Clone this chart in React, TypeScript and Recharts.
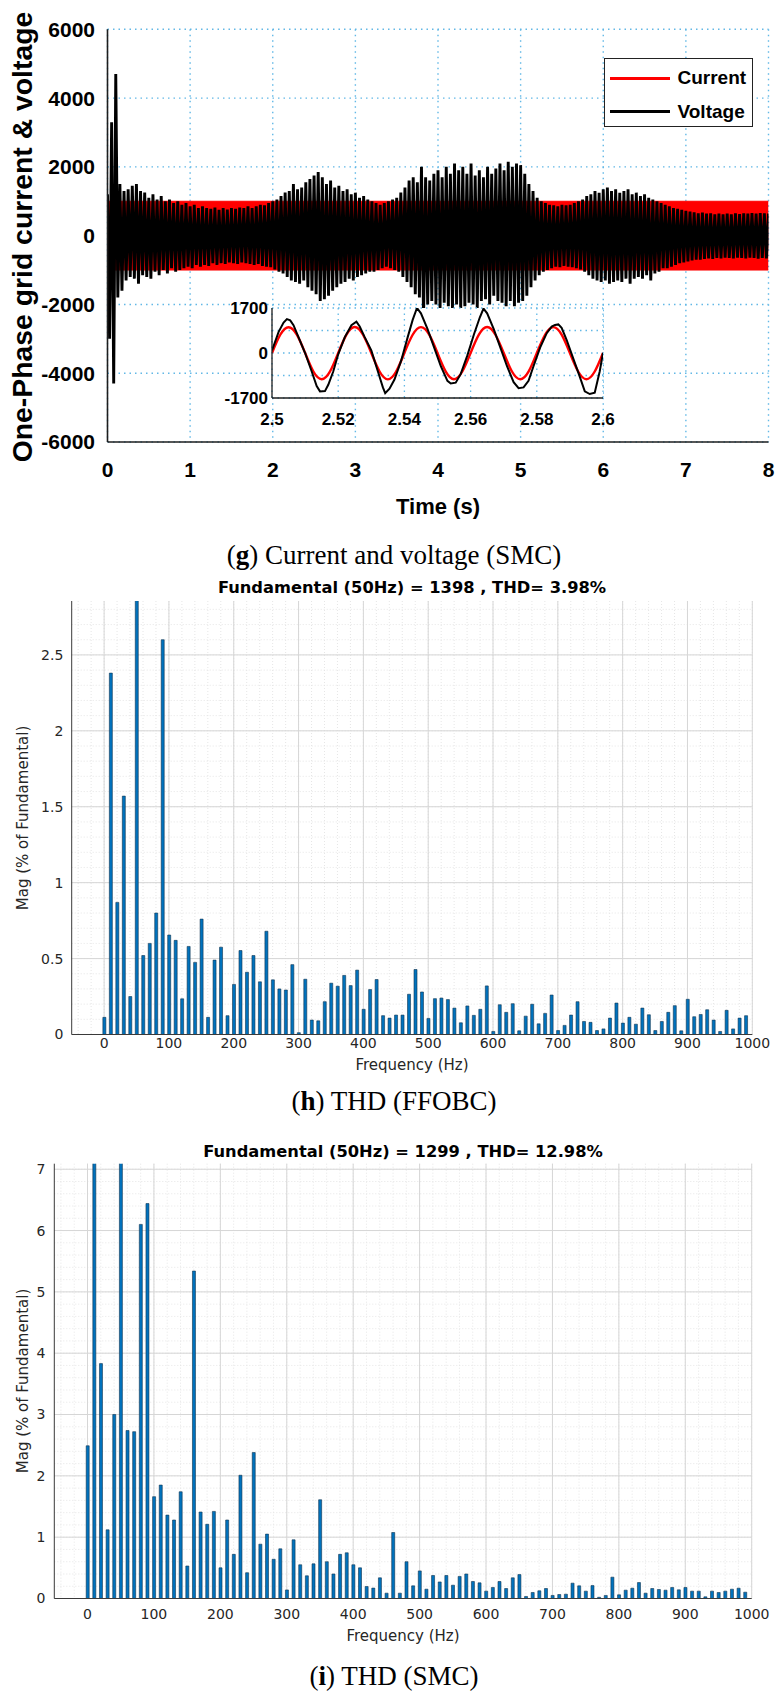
import React from 'react';
import {
  ComposedChart,
  LineChart,
  BarChart,
  Line,
  Area,
  Bar,
  XAxis,
  YAxis,
  CartesianGrid,
  Legend,
} from 'recharts';

// ---------------- (g) time-domain panel data ----------------
const timeTicks = [0, 1, 2, 3, 4, 5, 6, 7, 8];
const ampTicks = [-6000, -4000, -2000, 0, 2000, 4000, 6000];

// grid current: dense 50 Hz oscillation, read as its envelope
const currentTime = [0, 0.005, 0.01, 8];
const currentHigh = [0, 700, 1000, 1000];
const currentLow = [0, -700, -1000, -1000];

// grid voltage: successive positive / negative peaks
const voltageTime = [
  0, 0.05, 0.1, 0.15, 0.2, 0.25, 0.3, 0.35, 0.4, 0.45, 0.5, 0.55, 0.6, 0.65, 0.7, 0.75, 0.8, 0.85, 0.9, 0.95,
  1, 1.05, 1.1, 1.15, 1.2, 1.25, 1.3, 1.35, 1.4, 1.45, 1.5, 1.55, 1.6, 1.65, 1.7, 1.75, 1.8, 1.85, 1.9, 1.95,
  2, 2.05, 2.1, 2.15, 2.2, 2.25, 2.3, 2.35, 2.4, 2.45, 2.5, 2.55, 2.6, 2.65, 2.7, 2.75, 2.8, 2.85, 2.9, 2.95,
  3, 3.05, 3.1, 3.15, 3.2, 3.25, 3.3, 3.35, 3.4, 3.45, 3.5, 3.55, 3.6, 3.65, 3.7, 3.75, 3.8, 3.85, 3.9, 3.95,
  4, 4.05, 4.1, 4.15, 4.2, 4.25, 4.3, 4.35, 4.4, 4.45, 4.5, 4.55, 4.6, 4.65, 4.7, 4.75, 4.8, 4.85, 4.9, 4.95,
  5, 5.05, 5.1, 5.15, 5.2, 5.25, 5.3, 5.35, 5.4, 5.45, 5.5, 5.55, 5.6, 5.65, 5.7, 5.75, 5.8, 5.85, 5.9, 5.95,
  6, 6.05, 6.1, 6.15, 6.2, 6.25, 6.3, 6.35, 6.4, 6.45, 6.5, 6.55, 6.6, 6.65, 6.7, 6.75, 6.8, 6.85, 6.9, 6.95,
  7, 7.05, 7.1, 7.15, 7.2, 7.25, 7.3, 7.35, 7.4, 7.45, 7.5, 7.55, 7.6, 7.65, 7.7, 7.75, 7.8, 7.85, 7.9, 7.95,
  8,
];
const voltageHigh = [
  1200, 3300, 4700, 1500, 1300, 1350, 1450, 1500, 1300, 1250, 1100, 1200, 1050, 1150, 1000, 1050, 950, 1000, 900, 950,
  850, 900, 800, 850, 800, 780, 820, 750, 800, 760, 800, 780, 820, 800, 850, 800, 850, 900, 880, 950,
  1000, 1050, 1150, 1250, 1300, 1500, 1350, 1400, 1550, 1650, 1750, 1850, 1700, 1500, 1600, 1400, 1450, 1300, 1350, 1200,
  1250, 1100, 1150, 1050, 1000, 950, 900, 950, 1000, 1050, 1100, 1250, 1400, 1600, 1700, 1550, 2000, 1700, 1600, 1800,
  1900, 1700, 2000, 1800, 2100, 1900, 2000, 1800, 2100, 1750, 1900, 1700, 2000, 1800, 1950, 2100, 1900, 2150, 2000, 2100,
  2050, 1800, 1500, 1300, 1100, 1000, 950, 900, 880, 850, 900, 880, 900, 950, 1000, 1050, 1150, 1200, 1300, 1250,
  1350, 1400, 1300, 1350, 1250, 1300, 1350, 1200, 1250, 1150, 1200, 1100, 1050, 1000, 950, 900, 850, 800, 780, 750,
  720, 700, 680, 650, 670, 640, 650, 620, 640, 620, 640, 620, 650, 630, 650, 640, 660, 640, 660, 650,
  640,
];
const voltageLow = [
  -3000, -4300, -1800, -1600, -1300, -1200, -1250, -1400, -1150, -1200, -1250, -1050, -1150, -1000, -1100, -950, -1050, -1000, -950, -900,
  -950, -850, -900, -850, -880, -800, -850, -800, -820, -780, -800, -820, -780, -800, -820, -850, -820, -880, -900, -920,
  -980, -1050, -1100, -1200, -1300, -1350, -1400, -1300, -1500, -1600, -1700, -1900, -1850, -1750, -1600, -1500, -1400, -1350, -1250, -1300,
  -1200, -1150, -1100, -1050, -1050, -1000, -950, -900, -950, -1000, -1050, -1200, -1350, -1500, -1700, -1800, -2400, -2000, -1900, -2000,
  -2100, -1950, -2050, -2100, -2000, -2100, -2050, -1950, -2000, -2100, -1900, -1850, -2000, -1750, -1900, -1950, -2050, -1900, -2050, -1950,
  -1900, -1750, -1500, -1300, -1150, -1050, -1000, -950, -900, -920, -880, -900, -920, -950, -980, -1050, -1150, -1250, -1300, -1350,
  -1300, -1400, -1350, -1300, -1350, -1250, -1400, -1250, -1200, -1250, -1150, -1300, -1100, -1050, -950, -950, -900, -850, -800, -780,
  -750, -720, -700, -700, -680, -660, -680, -650, -660, -640, -650, -660, -640, -650, -660, -640, -650, -670, -650, -660,
  -650,
];
const HALF_PERIOD_STEP = 0.025;

// zoomed inset (2.5 s – 2.6 s)
const insetTicks = [2.5, 2.52, 2.54, 2.56, 2.58, 2.6];
const insetAmpTicks = [-1700, -850, 0, 850, 1700];
const insetAmpLabels: Record<number, string> = { [-1700]: '-1700', [-850]: '', 0: '0', 850: '', 1700: '1700' };

const insetCurrentTime = [
  2.5, 2.5025, 2.505, 2.5075, 2.51, 2.5125, 2.515, 2.5175,
  2.52, 2.5225, 2.525, 2.5275, 2.53, 2.5325, 2.535, 2.5375,
  2.54, 2.5425, 2.545, 2.5475, 2.55, 2.5525, 2.555, 2.5575,
  2.56, 2.5625, 2.565, 2.5675, 2.57, 2.5725, 2.575, 2.5775,
  2.58, 2.5825, 2.585, 2.5875, 2.59, 2.5925, 2.595, 2.5975,
  2.6,
];
const insetCurrent = [
  0, 690, 975, 695, 5, -700, -990, -705,
  0, 695, 980, 690, 0, -700, -995, -700,
  5, 690, 978, 692, 0, -702, -990, -700,
  0, 693, 980, 690, 3, -700, -992, -703,
  0, 690, 977, 693, 0, -700, -990, -700,
  0,
];
const insetVoltageTime = [
  2.5, 2.502, 2.5035, 2.5045, 2.5055, 2.5065, 2.508, 2.51, 2.512, 2.5135, 2.5145, 2.516, 2.517, 2.5185,
  2.52, 2.522, 2.524, 2.5255, 2.5265, 2.528, 2.53, 2.532, 2.5335, 2.5342, 2.5355, 2.537, 2.539,
  2.541, 2.5425, 2.5438, 2.545, 2.547, 2.549, 2.551, 2.553, 2.554, 2.5555, 2.557, 2.559,
  2.561, 2.5628, 2.5639, 2.565, 2.567, 2.569, 2.571, 2.573, 2.5745, 2.576, 2.5775, 2.579,
  2.581, 2.583, 2.5845, 2.5855, 2.5865, 2.5875, 2.589, 2.591, 2.593, 2.5945, 2.596, 2.5975, 2.599, 2.6,
];
const insetVoltage = [
  100, 800, 1150, 1280, 1230, 1050, 600, 0, -700, -1250, -1450, -1440, -1200, -700,
  -50, 600, 1050, 1180, 1000, 600, 100, -700, -1300, -1520, -1350, -1000, -300,
  600, 1250, 1700, 1500, 900, 200, -500, -1050, -1150, -1120, -800, -100,
  700, 1350, 1680, 1500, 900, 200, -500, -1100, -1330, -1300, -1050, -500,
  200, 750, 1000, 1060, 1080, 950, 500, -200, -900, -1450, -1550, -1500, -700, 0,
];

// ---------------- (h) / (i) harmonic spectra data ----------------
const freqHz = [
  0, 10, 20, 30, 40, 50, 60, 70, 80, 90, 100, 110, 120, 130, 140, 150, 160, 170, 180, 190,
  200, 210, 220, 230, 240, 250, 260, 270, 280, 290, 300, 310, 320, 330, 340, 350, 360, 370, 380, 390,
  400, 410, 420, 430, 440, 450, 460, 470, 480, 490, 500, 510, 520, 530, 540, 550, 560, 570, 580, 590,
  600, 610, 620, 630, 640, 650, 660, 670, 680, 690, 700, 710, 720, 730, 740, 750, 760, 770, 780, 790,
  800, 810, 820, 830, 840, 850, 860, 870, 880, 890, 900, 910, 920, 930, 940, 950, 960, 970, 980, 990,
];
const freqTicks = [0, 100, 200, 300, 400, 500, 600, 700, 800, 900, 1000];

// FFOBC: % of fundamental (50 Hz bar = 100 %, clipped by the axis)
const magFFOBC = [
  0.113, 2.38, 0.87, 1.57, 0.25, 100, 0.52, 0.6, 0.8, 2.6, 0.655, 0.62, 0.235, 0.58, 0.475, 0.76, 0.113, 0.49, 0.575, 0.124,
  0.33, 0.553, 0.41, 0.52, 0.347, 0.68, 0.36, 0.3, 0.293, 0.46, 0.012, 0.364, 0.095, 0.09, 0.216, 0.338, 0.318, 0.389, 0.322, 0.424,
  0.166, 0.296, 0.362, 0.124, 0.108, 0.128, 0.128, 0.265, 0.428, 0.28, 0.106, 0.236, 0.24, 0.23, 0.174, 0.077, 0.188, 0.126, 0.166, 0.32,
  0.02, 0.196, 0.146, 0.203, 0.024, 0.121, 0.199, 0.07, 0.139, 0.26, 0.026, 0.06, 0.128, 0.216, 0.086, 0.08, 0.026, 0.037, 0.108, 0.207,
  0.075, 0.113, 0.068, 0.174, 0.13, 0.026, 0.086, 0.146, 0.19, 0.024, 0.232, 0.117, 0.132, 0.163, 0.095, 0.02, 0.159, 0.037, 0.108, 0.124,
];
const ffobcTicks = [0, 0.5, 1, 1.5, 2, 2.5];

// SMC: % of fundamental (10 Hz and 50 Hz bars run past the top of the axis)
const magSMC = [
  2.49, 7.5, 3.83, 1.12, 3.0, 100, 2.74, 2.72, 6.1, 6.44, 1.66, 1.85, 1.36, 1.28, 1.74, 0.53, 5.34, 1.41, 1.21, 1.42,
  0.5, 1.28, 0.72, 2.01, 0.42, 2.38, 0.886, 1.05, 0.64, 0.81, 0.14, 0.957, 0.55, 0.37, 0.565, 1.61, 0.6, 0.4, 0.72, 0.745,
  0.55, 0.5, 0.196, 0.17, 0.337, 0.087, 1.076, 0.087, 0.6, 0.206, 0.45, 0.152, 0.375, 0.27, 0.375, 0.217, 0.36, 0.4, 0.277, 0.255,
  0.12, 0.18, 0.277, 0.163, 0.337, 0.39, 0.033, 0.098, 0.125, 0.163, 0.05, 0.065, 0.07, 0.25, 0.206, 0.12, 0.21, 0.02, 0.05, 0.348,
  0.06, 0.136, 0.168, 0.26, 0.087, 0.163, 0.147, 0.136, 0.18, 0.141, 0.18, 0.12, 0.12, 0.027, 0.12, 0.098, 0.12, 0.152, 0.168, 0.103,
];
const smcTicks = [0, 1, 2, 3, 4, 5, 6, 7];

const legendOrder = ['Current', 'Voltage'];

// ---------------- styling ----------------
const SANS = "'Liberation Sans', Arial, Helvetica, sans-serif";
const DV = "'DejaVu Sans', Verdana, sans-serif";
const SERIF = "'Liberation Serif', 'Times New Roman', serif";
const GRID_BLUE = '#62b8e6';
const FRAME = '#1e1e1e';

function gridSteps(start: number, stop: number, step: number): number[] {
  const out: number[] = [];
  for (let v = start; v <= stop + 1e-9; v += step) out.push(Math.round(v * 1000) / 1000);
  return out;
}

function CenterText(props: {
  x: number;
  y: number;
  children: React.ReactNode;
  style?: React.CSSProperties;
  rotate?: boolean;
  stretch?: number;
}) {
  const stretch = props.stretch ? ` scaleX(${props.stretch})` : '';
  return (
    <div
      style={{
        position: 'absolute',
        left: props.x,
        top: props.y,
        transform: `translate(-50%, -50%)${props.rotate ? ' rotate(-90deg)' : ''}${stretch}`,
        whiteSpace: 'nowrap',
        lineHeight: 1,
        ...props.style,
      }}
    >
      {props.children}
    </div>
  );
}

function LegendBox(props: any) {
  const payload: any[] = (props && props.payload) || [];
  const items = [...payload].sort(
    (a, b) => legendOrder.indexOf(String(a.value)) - legendOrder.indexOf(String(b.value))
  );
  const rowCenters = [19, 52.4];
  return (
    <div
      style={{
        position: 'relative',
        boxSizing: 'border-box',
        width: 149,
        height: 68.4,
        border: '1.5px solid #222',
        background: '#fff',
        fontFamily: SANS,
        fontWeight: 700,
        fontSize: 19,
        color: '#000',
      }}
    >
      {items.map((it, i) => (
        <div
          key={String(it.value)}
          style={{
            position: 'absolute',
            left: 5,
            top: rowCenters[i] - 12,
            height: 24,
            display: 'flex',
            alignItems: 'center',
          }}
        >
          <div style={{ width: 60, height: 3, background: it.color }} />
          <span style={{ marginLeft: 8 }}>{it.value}</span>
        </div>
      ))}
    </div>
  );
}

function TimePanel() {
  const currentData = currentTime.map((t, i) => ({ t, band: [currentLow[i], currentHigh[i]] }));
  const voltageData = voltageTime.flatMap((t, i) => [
    { t, v: voltageHigh[i] },
    { t: t + HALF_PERIOD_STEP, v: voltageLow[i] },
  ]);
  const tickStyle = { fontFamily: SANS, fontSize: 21, fontWeight: 700, fill: '#000' };
  return (
    <div style={{ position: 'absolute', left: 0, top: 0 }}>
      <ComposedChart width={782} height={482} margin={{ top: 29.3, right: 13.5, left: 0, bottom: 0 }}>
        <CartesianGrid stroke={GRID_BLUE} strokeDasharray="1.5 4" strokeWidth={1.4} />
        <XAxis
          dataKey="t"
          type="number"
          domain={[0, 8]}
          ticks={timeTicks}
          allowDataOverflow
          interval={0}
          height={40}
          tickSize={0}
          tickMargin={20.5}
          axisLine={{ stroke: FRAME, strokeWidth: 1.6 }}
          tick={tickStyle}
        />
        <XAxis
          xAxisId="top"
          orientation="top"
          type="number"
          domain={[0, 8]}
          ticks={timeTicks}
          allowDataOverflow
          height={0}
          mirror
          tick={false}
          tickSize={5}
          axisLine={{ stroke: FRAME, strokeWidth: 1.6 }}
          tickLine={{ stroke: FRAME }}
        />
        <YAxis
          type="number"
          domain={[-6000, 6000]}
          ticks={ampTicks}
          allowDataOverflow
          interval={0}
          width={107.5}
          tickSize={0}
          tickMargin={12.5}
          axisLine={{ stroke: FRAME, strokeWidth: 1.6 }}
          tick={tickStyle}
        />
        <YAxis
          yAxisId="right"
          orientation="right"
          type="number"
          domain={[-6000, 6000]}
          ticks={ampTicks}
          allowDataOverflow
          width={0}
          mirror
          tick={false}
          tickSize={5}
          axisLine={{ stroke: FRAME, strokeWidth: 1.6 }}
          tickLine={{ stroke: FRAME }}
        />
        <Area
          data={currentData}
          dataKey="band"
          name="Current"
          type="linear"
          stroke="#ff0000"
          strokeWidth={1}
          fill="#ff0000"
          fillOpacity={1}
          dot={false}
          activeDot={false}
          isAnimationActive={false}
        />
        <Line
          data={voltageData}
          dataKey="v"
          name="Voltage"
          type="linear"
          stroke="#000000"
          strokeWidth={2.9}
          strokeLinejoin="miter"
          dot={false}
          activeDot={false}
          isAnimationActive={false}
        />
        <Legend
          layout="vertical"
          align="center"
          verticalAlign="middle"
          wrapperStyle={{ left: 603.5, top: 58.3, width: 149, height: 68.4 }}
          content={(p: any) => <LegendBox payload={p.payload} />}
        />
      </ComposedChart>
    </div>
  );
}

function InsetPanel() {
  const cur = insetCurrentTime.map((t, i) => ({ t, v: insetCurrent[i] }));
  const volt = insetVoltageTime.map((t, i) => ({ t, v: insetVoltage[i] }));
  const tickStyle = { fontFamily: SANS, fontSize: 17, fontWeight: 700, fill: '#000' };
  return (
    <div style={{ position: 'absolute', left: 216.7, top: 289.7 }}>
      <LineChart width={402} height={144} margin={{ top: 18, right: 16, left: 0, bottom: 0 }}>
        <CartesianGrid stroke={GRID_BLUE} strokeDasharray="1.5 4" strokeWidth={1.3} fill="#ffffff" fillOpacity={1} />
        <XAxis
          dataKey="t"
          type="number"
          domain={[2.5, 2.6]}
          ticks={insetTicks}
          allowDataOverflow
          interval={0}
          height={36}
          tickSize={0}
          tickMargin={15}
          axisLine={{ stroke: FRAME, strokeWidth: 1.3 }}
          tick={tickStyle}
        />
        <XAxis
          xAxisId="top"
          orientation="top"
          type="number"
          domain={[2.5, 2.6]}
          ticks={insetTicks}
          allowDataOverflow
          height={0}
          mirror
          tick={false}
          tickLine={false}
          axisLine={{ stroke: FRAME, strokeWidth: 1.3 }}
        />
        <YAxis
          type="number"
          domain={[-1700, 1700]}
          ticks={insetAmpTicks}
          allowDataOverflow
          interval={0}
          width={55}
          tickSize={0}
          tickMargin={4}
          tickFormatter={(v: number) => insetAmpLabels[v] ?? String(v)}
          axisLine={{ stroke: FRAME, strokeWidth: 1.3 }}
          tick={tickStyle}
        />
        <YAxis
          yAxisId="right"
          orientation="right"
          type="number"
          domain={[-1700, 1700]}
          ticks={insetAmpTicks}
          allowDataOverflow
          width={0}
          mirror
          tick={false}
          tickLine={false}
          axisLine={{ stroke: FRAME, strokeWidth: 1.3 }}
        />
        <Line
          data={cur}
          dataKey="v"
          name="Current"
          type="natural"
          stroke="#ff0000"
          strokeWidth={2.4}
          dot={false}
          activeDot={false}
          isAnimationActive={false}
        />
        <Line
          data={volt}
          dataKey="v"
          name="Voltage"
          type="linear"
          stroke="#000000"
          strokeWidth={2}
          dot={false}
          activeDot={false}
          isAnimationActive={false}
        />
      </LineChart>
    </div>
  );
}

type ThdProps = {
  top: number;
  height: number;
  marginTop: number;
  marginRight: number;
  yWidth: number;
  xHeight: number;
  xTickMargin: number;
  yTickMargin: number;
  mag: number[];
  yMax: number;
  yTicks: number[];
  yMinorStep: number;
};

function ThdPanel(p: ThdProps) {
  const data = freqHz.map((f, i) => ({ f, m: p.mag[i] }));
  const xMinor = gridSteps(-40, 1000, 20);
  const yMinor = gridSteps(0, p.yMax, p.yMinorStep);
  const axisColor = '#3a3a3a';
  const tickStyle = { fontFamily: DV, fontSize: 14, fill: '#262626' };
  return (
    <div style={{ position: 'absolute', left: 0, top: p.top }}>
      <BarChart
        width={782}
        height={p.height}
        data={data}
        margin={{ top: p.marginTop, right: p.marginRight, left: 0, bottom: 0 }}
      >
        <CartesianGrid
          stroke="#e3e3e3"
          strokeDasharray="1 2"
          strokeWidth={0.9}
          horizontalValues={yMinor}
          verticalValues={xMinor}
        />
        <CartesianGrid stroke="#d6d6d6" strokeWidth={1} horizontalValues={p.yTicks} verticalValues={freqTicks} />
        <XAxis
          dataKey="f"
          type="number"
          domain={[-50, 1000]}
          ticks={freqTicks}
          allowDataOverflow
          interval={0}
          height={p.xHeight}
          tickSize={0}
          tickMargin={p.xTickMargin}
          axisLine={{ stroke: axisColor, strokeWidth: 1 }}
          tick={tickStyle}
        />
        <XAxis
          xAxisId="top"
          orientation="top"
          type="number"
          domain={[-50, 1000]}
          ticks={freqTicks}
          allowDataOverflow
          height={0}
          mirror
          tick={false}
          tickSize={5}
          axisLine={{ stroke: axisColor, strokeWidth: 1 }}
          tickLine={{ stroke: axisColor }}
        />
        <YAxis
          type="number"
          domain={[0, p.yMax]}
          ticks={p.yTicks}
          allowDataOverflow
          interval={0}
          width={p.yWidth}
          tickSize={0}
          tickMargin={p.yTickMargin}
          axisLine={{ stroke: axisColor, strokeWidth: 1 }}
          tick={tickStyle}
        />
        <YAxis
          yAxisId="right"
          orientation="right"
          type="number"
          domain={[0, p.yMax]}
          ticks={p.yTicks}
          allowDataOverflow
          width={0}
          mirror
          tick={false}
          tickSize={5}
          axisLine={{ stroke: axisColor, strokeWidth: 1 }}
          tickLine={{ stroke: axisColor }}
        />
        <Bar
          dataKey="m"
          name="Mag"
          barSize={3}
          fill="#0072BD"
          stroke="#10344f"
          strokeWidth={0.6}
          isAnimationActive={false}
        />
      </BarChart>
    </div>
  );
}

export default function App() {
  const captionStyle: React.CSSProperties = { fontFamily: SERIF, fontSize: 27, color: '#000' };
  const titleStyle: React.CSSProperties = { fontFamily: DV, fontWeight: 700, fontSize: 16.3, color: '#000' };
  const labelStyle: React.CSSProperties = { fontFamily: DV, fontSize: 15, color: '#262626' };
  return (
    <div
      style={{
        position: 'absolute',
        left: 0,
        top: 0,
        width: 782,
        height: 1703,
        background: '#ffffff',
        overflow: 'hidden',
      }}
    >
      {/* (g) */}
      <TimePanel />
      <InsetPanel />
      <CenterText
        x={23}
        y={237}
        rotate
        stretch={1.05}
        style={{ fontFamily: SANS, fontWeight: 700, fontSize: 27, color: '#000' }}
      >
        One-Phase grid current &amp; voltage
      </CenterText>
      <CenterText x={438} y={506.7} style={{ fontFamily: SANS, fontWeight: 700, fontSize: 22, color: '#000' }}>
        Time (s)
      </CenterText>
      <CenterText x={394} y={555} style={captionStyle}>
        (<b>g</b>) Current and voltage (SMC)
      </CenterText>

      {/* (h) */}
      <CenterText x={412} y={588} style={titleStyle}>
        Fundamental (50Hz) = 1398 , THD= 3.98%
      </CenterText>
      <ThdPanel
        top={570}
        height={494.5}
        marginTop={31}
        marginRight={29.7}
        yWidth={71.7}
        xHeight={30}
        xTickMargin={4}
        yTickMargin={8.4}
        mag={magFFOBC}
        yMax={2.855}
        yTicks={ffobcTicks}
        yMinorStep={0.1}
      />
      <CenterText x={23} y={818} rotate style={labelStyle}>
        Mag (% of Fundamental)
      </CenterText>
      <CenterText x={412} y={1065} style={labelStyle}>
        Frequency (Hz)
      </CenterText>
      <CenterText x={394} y={1101} style={captionStyle}>
        (<b>h</b>) THD (FFOBC)
      </CenterText>

      {/* (i) */}
      <CenterText x={403} y={1151.7} style={titleStyle}>
        Fundamental (50Hz) = 1299 , THD= 12.98%
      </CenterText>
      <ThdPanel
        top={1130}
        height={498.5}
        marginTop={33.7}
        marginRight={30.3}
        yWidth={54.3}
        xHeight={30}
        xTickMargin={10.6}
        yTickMargin={9}
        mag={magSMC}
        yMax={7.09}
        yTicks={smcTicks}
        yMinorStep={0.2}
      />
      <CenterText x={23} y={1381} rotate style={labelStyle}>
        Mag (% of Fundamental)
      </CenterText>
      <CenterText x={403} y={1636} style={labelStyle}>
        Frequency (Hz)
      </CenterText>
      <CenterText x={394} y={1676} style={captionStyle}>
        (<b>i</b>) THD (SMC)
      </CenterText>
    </div>
  );
}
